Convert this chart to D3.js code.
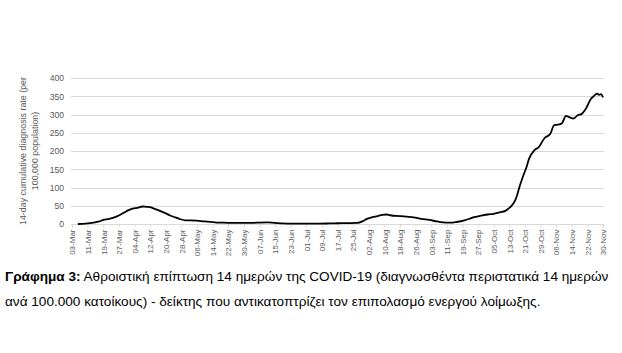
<!DOCTYPE html>
<html><head><meta charset="utf-8">
<script src="https://cdn.jsdelivr.net/npm/d3@7"></script>
<style>
html,body{margin:0;padding:0;background:#fff;}
svg{display:block;}
</style></head>
<body>
<svg id="c" width="622" height="353"></svg>
<script>
// ---- data ----
const dates = ["2020-03-06","2020-03-10","2020-03-14","2020-03-17","2020-03-19","2020-03-22","2020-03-24","2020-03-26","2020-03-28","2020-03-30",
"2020-04-01","2020-04-03","2020-04-06","2020-04-08","2020-04-10","2020-04-12","2020-04-14","2020-04-17","2020-04-20","2020-04-22","2020-04-25","2020-04-27","2020-04-30",
"2020-05-03","2020-05-06","2020-05-10","2020-05-13","2020-05-16","2020-05-20","2020-05-25","2020-05-30",
"2020-06-03","2020-06-07","2020-06-11","2020-06-15","2020-06-19","2020-06-23","2020-06-28",
"2020-07-03","2020-07-08","2020-07-13","2020-07-17","2020-07-22","2020-07-27","2020-07-30",
"2020-08-01","2020-08-04","2020-08-06","2020-08-09","2020-08-11","2020-08-13","2020-08-16","2020-08-20","2020-08-25","2020-08-29",
"2020-09-02","2020-09-06","2020-09-09","2020-09-11","2020-09-14","2020-09-16","2020-09-20","2020-09-23","2020-09-25","2020-09-28",
"2020-10-02","2020-10-05","2020-10-08","2020-10-11","2020-10-13","2020-10-14","2020-10-16","2020-10-17","2020-10-18","2020-10-20","2020-10-22","2020-10-23","2020-10-26","2020-10-28","2020-10-31",
"2020-11-03","2020-11-05","2020-11-07","2020-11-09","2020-11-11","2020-11-13","2020-11-15","2020-11-17","2020-11-19","2020-11-21","2020-11-24","2020-11-25","2020-11-27","2020-11-28","2020-11-29","2020-11-30"];
const rates = [0,1,3.5,7,11,14,17,21,26,32,
38,42,45,48,47,46,42,36,29,24,18,14,10,
10,9,7,6,4,3.5,3,3,
3,4,4.5,3,1.5,1,1,
1,1,1.5,2,2.5,3,8,
14,19,21,25,26,24,22,21,18,14,
11,7,4.5,3.6,4,5.5,10,15,19,22,
26,28,32,36,44,49,65,79,98,130,159,177,203,210,235,
247,271,272,276,296,292,289,298,301,314,344,349,357,354,356,347];
const yTicks = [0,50,100,150,200,250,300,350,400];
const xTickLabels = ["03-Mar","11-Mar","19-Mar","27-Mar","04-Apr","12-Apr","20-Apr","28-Apr","06-May","14-May","22-May","30-May",
"07-Jun","15-Jun","23-Jun","01-Jul","09-Jul","17-Jul","25-Jul","02-Aug","10-Aug","18-Aug","26-Aug","03-Sep","11-Sep","19-Sep",
"27-Sep","05-Oct","13-Oct","21-Oct","29-Oct","06-Nov","14-Nov","22-Nov","30-Nov"];
const yTitle = ["14-day cumulative diagnosis rate (per","100,000 population)"];
const captionBold = "Γράφημα 3:";
const captionRest1 = " Αθροιστική επίπτωση 14 ημερών της COVID-19 (διαγνωσθέντα περιστατικά 14 ημερών";
const captionLine2 = "ανά 100.000 κατοίκους) - δείκτης που αντικατοπτρίζει τον επιπολασμό ενεργού λοίμωξης.";

// ---- chart ----
(function(){
const parse = d3.timeParse("%Y-%m-%d");
const parseTick = d3.timeParse("%d-%b-%Y");
const data = dates.map((d,i)=>({date:parse(d), v:rates[i]}));
const tickDates = xTickLabels.map(t=>parseTick(t+"-2020"));

const svg = d3.select("#c");
const pL=72, pR=603, pT=78, pB=224;
const x = d3.scaleTime().domain([tickDates[0], tickDates[tickDates.length-1]]).range([pL,pR]);
const y = d3.scaleLinear().domain([0,400]).range([pB,pT]);

const font = "'Liberation Sans', Arial, sans-serif";
const grey = "#595959";

// gridlines
svg.append("g").selectAll("line").data(yTicks.filter(t=>t>0)).join("line")
  .attr("x1",pL-1).attr("x2",pR+1)
  .attr("y1",d=>Math.round(y(d))+0.5).attr("y2",d=>Math.round(y(d))+0.5)
  .attr("stroke","#d9d9d9").attr("stroke-width",1);

// y axis labels
const yAxis = d3.axisLeft(y).tickValues(yTicks).tickSize(0).tickPadding(8);
const gy = svg.append("g").attr("transform",`translate(${pL},0)`).call(yAxis);
gy.select(".domain").remove();
gy.selectAll("text").attr("font-family",font).attr("font-size",8.6).attr("fill",grey);

// x axis
const xAxis = d3.axisBottom(x).tickValues(tickDates).tickSize(3).tickPadding(4)
  .tickFormat((d,i)=>xTickLabels[i]);
const gx = svg.append("g").attr("transform",`translate(0,${pB+0.5})`).call(xAxis);
gx.select(".domain").attr("stroke","#d9d9d9").attr("d",`M${pL-1},0H${pR+1}`);
gx.selectAll(".tick line").attr("stroke","#d9d9d9");
gx.selectAll("text").attr("font-family",font).attr("font-size",8).attr("fill",grey)
  .attr("transform","rotate(-90)").attr("text-anchor","end")
  .attr("x",-5).attr("y",0).attr("dy","0.35em");

// y title
const yt = svg.append("text").attr("transform",`translate(26,151) rotate(-90)`)
  .attr("text-anchor","middle").attr("font-family",font).attr("font-size",8.9).attr("fill",grey);
yTitle.forEach((t,i)=>yt.append("tspan").attr("x",0).attr("dy",i===0?0:11.5).text(t));

// line
const line = d3.line().x(d=>x(d.date)).y(d=>y(d.v)).curve(d3.curveMonotoneX);
svg.append("path").datum(data).attr("d",line).attr("fill","none")
  .attr("stroke","#000").attr("stroke-width",1.8).attr("stroke-linejoin","round");

// caption
const cap = svg.append("text").attr("x",5).attr("y",281).attr("font-family",font).attr("font-size",13.6).attr("fill","#000");
cap.append("tspan").attr("font-weight","bold").text(captionBold);
cap.append("tspan").text(captionRest1);
svg.append("text").attr("x",5).attr("y",306).attr("font-family",font).attr("font-size",13.6).attr("fill","#000").text(captionLine2);
})();
</script>
</body></html>
